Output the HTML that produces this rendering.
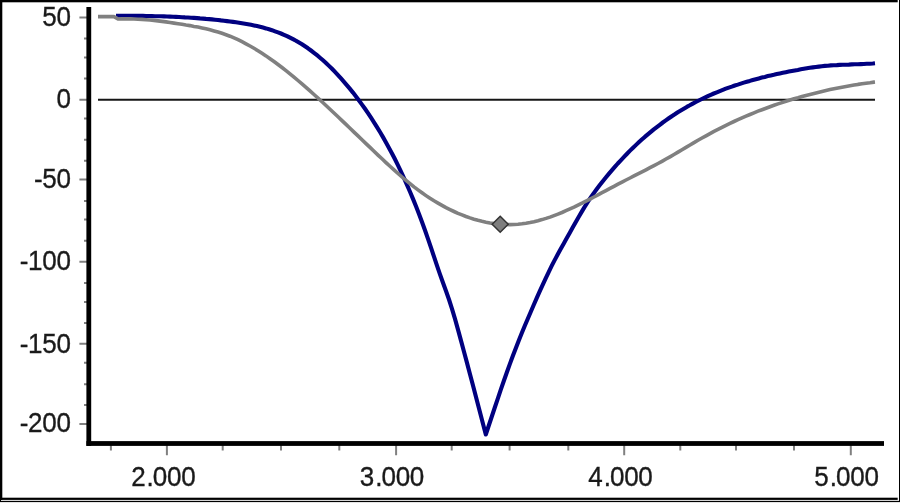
<!DOCTYPE html>
<html>
<head>
<meta charset="utf-8">
<title>Chart</title>
<style>
html,body{margin:0;padding:0;background:#fff;}
body{width:900px;height:503px;overflow:hidden;position:relative;}
svg{position:absolute;left:0;top:0;display:block;}
text{font-family:"Liberation Sans",sans-serif;fill:#1a1a1a;stroke:#1a1a1a;stroke-width:0.35px;}
</style>
</head>
<body>
<svg width="900" height="503" viewBox="0 0 900 503">
  <rect x="0" y="0" width="900" height="503" fill="#fff"/>
  <!-- outer frame -->
  <g id="frame">
    <rect x="0" y="0" width="897.7" height="2.3" fill="#000"/>
    <rect x="0" y="0" width="2.3" height="500" fill="#000"/>
    <rect x="0" y="497.7" width="897.7" height="2.2" fill="#000"/>
    <rect x="899" y="0" width="1" height="502" fill="#000"/>
    <rect x="1" y="500" width="898" height="1" fill="#d4d4d4"/>
    <rect x="0" y="500" width="1" height="2" fill="#000"/>
    <rect x="0" y="501" width="900" height="1.1" fill="#000"/>
  </g>
  <!-- ticks -->
  <g id="ticks" stroke="#808080" stroke-width="2" fill="none">
    <path d="M79.4 17.5H87 M79.4 99.8H87 M79.4 179.5H87 M79.4 261.8H87 M79.4 343.8H87 M79.4 423.9H87"/>
    <path d="M84 38.6H87 M84 57.4H87 M84 78.5H87 M84 118.6H87 M84 139.7H87 M84 160.8H87 M84 200.9H87 M84 219.4H87 M84 240.8H87 M84 283.1H87 M84 301.9H87 M84 323.0H87 M84 362.7H87 M84 384.2H87 M84 405.1H87"/>
    <path d="M166.9 445V455.2 M396.1 445V455.2 M624.2 445V455.2 M850.8 445V455.2"/>
    <path d="M110.9 445V450.6 M222.7 445V450.6 M281.0 445V450.6 M339.3 445V450.6 M451.7 445V450.6 M509.6 445V450.6 M568.3 445V450.6 M680.3 445V450.6 M736.0 445V450.6 M794.0 445V450.6"/>
  </g>
  <!-- axes -->
  <rect x="86.4" y="7" width="4.8" height="438.9" fill="#000"/>
  <rect x="86.4" y="441.1" width="797.6" height="4.8" fill="#000"/>
  <!-- zero line -->
  <path d="M98 99.8H875" fill="none" stroke="#161616" stroke-width="2.1"/>
  <!-- blue curve -->
  <path id="blue" fill="none" stroke="#000080" stroke-width="4.1" stroke-linejoin="round" stroke-linecap="butt"
    d="M116.0 15.8 L119.0 15.8 L122.0 15.8 L125.0 15.8 L128.0 15.8 L131.0 15.8 L134.0 15.9 L137.0 15.9 L140.0 15.9 L143.0 15.9 L146.0 16.0 L149.0 16.0 L152.0 16.1 L155.0 16.2 L158.0 16.2 L161.0 16.3 L164.0 16.4 L167.0 16.5 L170.0 16.6 L173.0 16.8 L176.0 16.9 L179.0 17.0 L182.0 17.2 L185.0 17.4 L188.0 17.5 L191.0 17.7 L194.0 17.9 L197.0 18.1 L200.0 18.4 L203.0 18.6 L206.0 18.9 L209.0 19.1 L212.0 19.4 L215.0 19.7 L218.0 20.0 L221.0 20.4 L224.0 20.7 L227.0 21.1 L230.0 21.5 L233.0 21.9 L236.0 22.3 L239.0 22.7 L242.0 23.2 L245.0 23.7 L248.0 24.2 L251.0 24.8 L254.0 25.4 L257.0 26.1 L260.0 26.8 L263.0 27.6 L266.0 28.4 L269.0 29.3 L272.0 30.2 L275.0 31.3 L278.0 32.4 L281.0 33.5 L284.0 34.8 L287.0 36.1 L290.0 37.6 L293.0 39.1 L296.0 40.7 L299.0 42.5 L302.0 44.3 L305.0 46.3 L308.0 48.3 L311.0 50.5 L314.0 52.8 L317.0 55.2 L320.0 57.7 L323.0 60.3 L326.0 63.0 L329.0 65.9 L332.0 68.8 L335.0 71.9 L338.0 75.1 L341.0 78.4 L344.0 81.8 L347.0 85.3 L350.0 88.9 L353.0 92.6 L356.0 96.5 L359.0 100.5 L362.0 104.6 L365.0 108.8 L368.0 113.2 L371.0 117.7 L374.0 122.3 L377.0 127.1 L380.0 132.0 L383.0 137.1 L386.0 142.4 L389.0 147.9 L392.0 153.5 L395.0 159.3 L398.0 165.3 L401.0 171.6 L404.0 178.1 L407.0 184.8 L410.0 191.7 L413.0 198.9 L416.0 206.3 L419.0 214.0 L422.0 222.0 L425.0 230.3 L428.0 238.9 L431.0 247.7 L434.0 256.7 L437.0 265.6 L440.0 274.3 L443.0 282.7 L446.0 291.0 L449.0 299.5 L452.0 308.8 L455.0 318.9 L458.0 329.6 L461.0 340.6 L464.0 351.7 L467.0 362.9 L470.0 374.2 L473.0 385.6 L476.0 397.0 L479.0 408.5 L482.0 419.9 L485.0 431.4 L485.8 434.5 L488.8 425.5 L491.8 416.5 L494.8 407.5 L497.8 398.6 L500.8 389.7 L503.8 381.0 L506.8 372.5 L509.8 364.1 L512.8 356.0 L515.8 348.2 L518.8 340.5 L521.8 333.1 L524.8 325.8 L527.8 318.7 L530.8 311.7 L533.8 304.8 L536.8 297.9 L539.8 291.2 L542.8 284.6 L545.8 278.1 L548.8 271.8 L551.8 265.7 L554.8 259.9 L557.8 254.3 L560.8 248.8 L563.8 243.5 L566.8 238.1 L569.8 232.7 L572.8 227.3 L575.8 221.9 L578.8 216.7 L581.8 211.6 L584.8 206.6 L587.8 201.9 L590.8 197.4 L593.8 193.1 L596.8 189.0 L599.8 185.1 L602.8 181.2 L605.8 177.5 L608.8 173.9 L611.8 170.4 L614.8 166.9 L617.8 163.5 L620.8 160.3 L623.8 157.1 L626.8 154.0 L629.8 150.9 L632.8 148.0 L635.8 145.1 L638.8 142.3 L641.8 139.6 L644.8 136.9 L647.8 134.4 L650.8 131.9 L653.8 129.4 L656.8 127.1 L659.8 124.8 L662.8 122.5 L665.8 120.4 L668.8 118.3 L671.8 116.2 L674.8 114.3 L677.8 112.3 L680.8 110.5 L683.8 108.7 L686.8 106.9 L689.8 105.3 L692.8 103.6 L695.8 102.0 L698.8 100.5 L701.8 99.0 L704.8 97.6 L707.8 96.2 L710.8 94.8 L713.8 93.5 L716.8 92.3 L719.8 91.1 L722.8 89.9 L725.8 88.7 L728.8 87.6 L731.8 86.6 L734.8 85.5 L737.8 84.6 L740.8 83.6 L743.8 82.6 L746.8 81.7 L749.8 80.9 L752.8 80.0 L755.8 79.2 L758.8 78.4 L761.8 77.6 L764.8 76.9 L767.8 76.1 L770.8 75.4 L773.8 74.8 L776.8 74.1 L779.8 73.4 L782.8 72.8 L785.8 72.2 L788.8 71.6 L791.8 71.0 L794.8 70.4 L797.8 69.9 L800.8 69.3 L803.8 68.8 L806.8 68.3 L809.8 67.8 L812.8 67.4 L815.8 67.0 L818.8 66.6 L821.8 66.2 L824.8 65.9 L827.8 65.7 L830.8 65.4 L833.8 65.2 L836.8 65.1 L839.8 64.9 L842.8 64.8 L845.8 64.7 L848.8 64.6 L851.8 64.4 L854.8 64.3 L857.8 64.2 L860.8 64.1 L863.8 64.0 L866.8 63.8 L869.8 63.7 L872.8 63.5 L875.0 63.3"/>
  <!-- gray curve -->
  <path id="gray" fill="none" stroke="#808080" stroke-width="3.6" stroke-linejoin="round" stroke-linecap="butt"
    d="M98.0 16.6 L114.0 16.6 L118.0 19.0 L122.0 18.9 L126.0 18.8 L130.0 18.9 L134.0 19.0 L138.0 19.2 L142.0 19.4 L146.0 19.7 L150.0 20.0 L154.0 20.4 L158.0 20.9 L162.0 21.4 L166.0 21.9 L170.0 22.5 L174.0 23.1 L178.0 23.7 L182.0 24.3 L186.0 25.0 L190.0 25.6 L194.0 26.4 L198.0 27.1 L202.0 27.9 L206.0 28.8 L210.0 29.8 L214.0 30.9 L218.0 32.0 L222.0 33.3 L226.0 34.7 L230.0 36.2 L234.0 37.9 L238.0 39.7 L242.0 41.7 L246.0 43.8 L250.0 46.0 L254.0 48.3 L258.0 50.7 L262.0 53.3 L266.0 55.9 L270.0 58.7 L274.0 61.5 L278.0 64.5 L282.0 67.5 L286.0 70.6 L290.0 73.8 L294.0 77.1 L298.0 80.5 L302.0 83.9 L306.0 87.3 L310.0 90.9 L314.0 94.5 L318.0 98.1 L322.0 101.8 L326.0 105.5 L330.0 109.2 L334.0 113.0 L338.0 116.8 L342.0 120.6 L346.0 124.4 L350.0 128.2 L354.0 132.1 L358.0 135.9 L362.0 139.8 L366.0 143.6 L370.0 147.4 L374.0 151.3 L378.0 155.1 L382.0 158.8 L386.0 162.6 L390.0 166.3 L394.0 169.9 L398.0 173.5 L402.0 177.0 L406.0 180.4 L410.0 183.7 L414.0 186.9 L418.0 189.9 L422.0 192.8 L426.0 195.6 L430.0 198.3 L434.0 200.8 L438.0 203.1 L442.0 205.4 L446.0 207.6 L450.0 209.6 L454.0 211.5 L458.0 213.3 L462.0 214.9 L466.0 216.5 L470.0 217.9 L474.0 219.2 L478.0 220.3 L482.0 221.3 L486.0 222.2 L490.0 223.0 L494.0 223.6 L498.0 224.0 L502.0 224.3 L506.0 224.5 L510.0 224.6 L514.0 224.5 L518.0 224.2 L522.0 223.8 L526.0 223.2 L530.0 222.5 L534.0 221.7 L538.0 220.7 L542.0 219.6 L546.0 218.4 L550.0 217.1 L554.0 215.6 L558.0 214.1 L562.0 212.5 L566.0 210.7 L570.0 208.9 L574.0 207.1 L578.0 205.1 L582.0 203.2 L586.0 201.1 L590.0 199.1 L594.0 197.0 L598.0 194.8 L602.0 192.7 L606.0 190.6 L610.0 188.4 L614.0 186.3 L618.0 184.2 L622.0 182.1 L626.0 180.0 L630.0 178.0 L634.0 175.9 L638.0 173.9 L642.0 171.9 L646.0 169.8 L650.0 167.7 L654.0 165.6 L658.0 163.5 L662.0 161.3 L666.0 159.0 L670.0 156.8 L674.0 154.5 L678.0 152.1 L682.0 149.7 L686.0 147.4 L690.0 145.0 L694.0 142.6 L698.0 140.3 L702.0 138.0 L706.0 135.8 L710.0 133.6 L714.0 131.4 L718.0 129.4 L722.0 127.3 L726.0 125.3 L730.0 123.4 L734.0 121.5 L738.0 119.7 L742.0 117.9 L746.0 116.2 L750.0 114.5 L754.0 112.8 L758.0 111.2 L762.0 109.7 L766.0 108.2 L770.0 106.7 L774.0 105.3 L778.0 103.9 L782.0 102.6 L786.0 101.3 L790.0 100.0 L794.0 98.8 L798.0 97.7 L802.0 96.5 L806.0 95.4 L810.0 94.4 L814.0 93.4 L818.0 92.4 L822.0 91.4 L826.0 90.5 L830.0 89.6 L834.0 88.8 L838.0 88.0 L842.0 87.2 L846.0 86.5 L850.0 85.8 L854.0 85.1 L858.0 84.4 L862.0 83.8 L866.0 83.2 L870.0 82.7 L874.0 82.1 L875.0 82.0"/>
  <!-- marker -->
  <path d="M500.2 216.3 L508.2 224.3 L500.2 232.3 L492.2 224.3 Z" fill="#7e7e7e" stroke="#333" stroke-width="1.5"/>
  <!-- labels -->
  <g font-size="28" text-anchor="end" letter-spacing="-0.3">
    <text transform="translate(70.7 26.0) scale(0.93 1)">50</text>
    <text transform="translate(70.7 107.8) scale(0.93 1)">0</text>
    <text transform="translate(70.7 188.2) scale(0.93 1)">-50</text>
    <text transform="translate(70.7 270.3) scale(0.93 1)">-100</text>
    <text transform="translate(70.7 352.5) scale(0.93 1)">-150</text>
    <text transform="translate(70.7 431.9) scale(0.93 1)">-200</text>
  </g>
  <g font-size="28" text-anchor="middle" letter-spacing="-0.3">
    <text transform="translate(163.3 486) scale(0.93 1)" dx="0 1.3 -0.7 0 0">2.000</text>
    <text transform="translate(391.9 486) scale(0.93 1)" dx="0 1.3 -0.7 0 0">3.000</text>
    <text transform="translate(620.4 486) scale(0.93 1)" dx="0 1.3 -0.7 0 0">4.000</text>
    <text transform="translate(846.5 486) scale(0.93 1)" dx="0 1.3 -0.7 0 0">5.000</text>
  </g>
</svg>
</body>
</html>
